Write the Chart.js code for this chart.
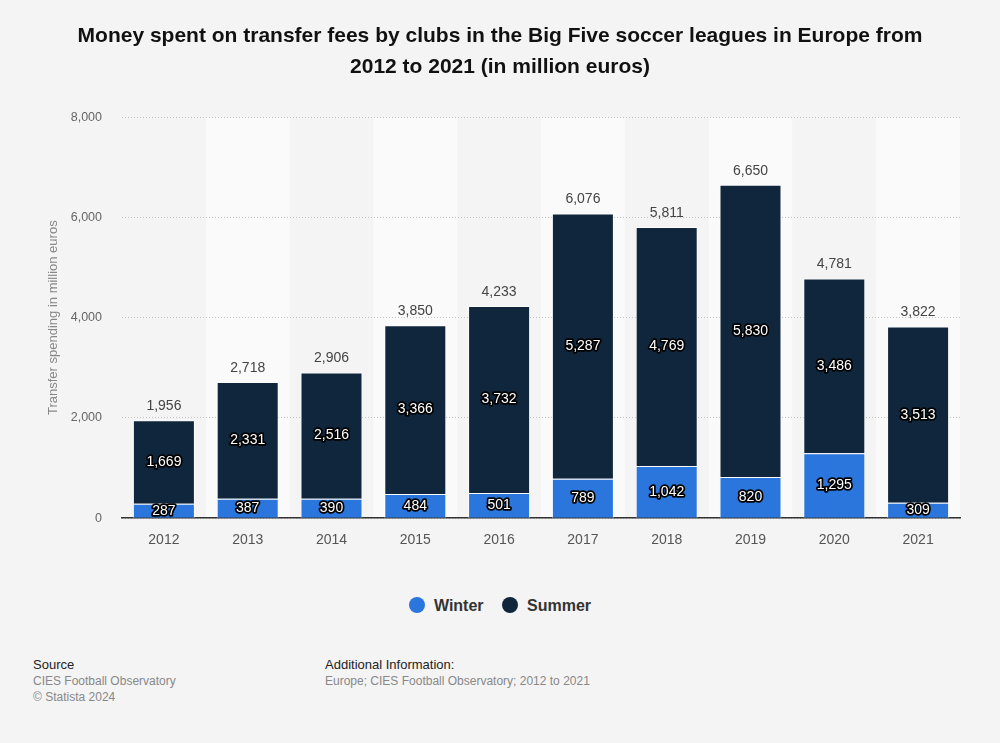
<!DOCTYPE html>
<html>
<head>
<meta charset="utf-8">
<script src="https://cdn.jsdelivr.net/npm/chart.js@4"></script>
<style>
  body { margin: 0; background: #f4f4f4; font-family: "Liberation Sans", Arial, sans-serif; }
  #wrap { position: relative; width: 1000px; height: 743px; }
  #chart { position: absolute; left: 0; top: 0; }
  .legend { position: absolute; top: 597px; left: 0; width: 1000px; text-align: center; font-size: 16px; font-weight: bold; color: #333; }
  .legend span { display: inline-block; margin: 0 7px; }
  .legend i { display: inline-block; width: 16px; height: 16px; border-radius: 50%; vertical-align: -2px; margin-right: 9px; }
  .foot { position: absolute; top: 657px; font-size: 12px; color: #888; line-height: 16px; }
  .foot b { font-weight: normal; color: #222; font-size: 13px; }
</style>
</head>
<body>
<div id="wrap">
  <canvas id="chart" width="1000" height="560"></canvas>
  <div class="legend">
    <span><i style="background:#2a76dc"></i>Winter</span>
    <span><i style="background:#10263d"></i>Summer</span>
  </div>
  <div class="foot" style="left:33px"><b>Source</b><br>CIES Football Observatory<br>© Statista 2024</div>
  <div class="foot" style="left:325px"><b>Additional Information:</b><br>Europe; CIES Football Observatory; 2012 to 2021</div>
</div>
<script>
const years = ['2012', '2013', '2014', '2015', '2016', '2017', '2018', '2019', '2020', '2021'];
const winter = [287, 387, 390, 484, 501, 789, 1042, 820, 1295, 309];
const summer = [1669, 2331, 2516, 3366, 3732, 5287, 4769, 5830, 3486, 3513];
const yTicks = [0, 2000, 4000, 6000, 8000];

const totals = years.map((y, i) => winter[i] + summer[i]);
const fmt = v => v.toLocaleString('en-US');
const FONT = '"Liberation Sans", Arial, sans-serif';

// lighter background columns behind every other year
const bands = {
    id: 'bands',
    beforeDraw(chart) {
        const { ctx, chartArea, scales } = chart;
        const w = (chartArea.right - chartArea.left) / years.length;
        ctx.save();
        ctx.fillStyle = '#fafafa';
        years.forEach((y, i) => {
            if (i % 2 === 1) {
                const x = scales.x.getPixelForValue(i);
                ctx.fillRect(x - w / 2, chartArea.top, w, chartArea.bottom - chartArea.top);
            }
        });
        ctx.restore();
    }
};

// values inside the bars and totals on top
const labels = {
    id: 'labels',
    afterDatasetsDraw(chart) {
        const { ctx } = chart;
        ctx.save();
        ctx.textAlign = 'center';
        ctx.textBaseline = 'middle';
        ctx.font = '14px ' + FONT;
        ctx.lineJoin = 'round';
        chart.data.datasets.forEach((ds, di) => {
            chart.getDatasetMeta(di).data.forEach((bar, i) => {
                const cy = (bar.y + bar.base) / 2;
                ctx.lineWidth = 3.5;
                ctx.strokeStyle = '#000';
                ctx.strokeText(fmt(ds.data[i]), bar.x, cy);
                ctx.fillStyle = '#fff';
                ctx.fillText(fmt(ds.data[i]), bar.x, cy);
            });
        });
        ctx.fillStyle = '#444';
        chart.getDatasetMeta(1).data.forEach((bar, i) => {
            ctx.fillText(fmt(totals[i]), bar.x, bar.y - 14);
        });
        ctx.restore();
    }
};

new Chart(document.getElementById('chart'), {
    type: 'bar',
    data: {
        labels: years,
        datasets: [
            { label: 'Winter', data: winter, backgroundColor: '#2a76dc', borderColor: 'rgba(255,255,255,0.7)', borderWidth: 1 },
            { label: 'Summer', data: summer, backgroundColor: '#10263d', borderColor: 'rgba(255,255,255,0.7)', borderWidth: 1 }
        ]
    },
    options: {
        responsive: false,
        animation: false,
        layout: { padding: { left: 40, right: 40, bottom: 5 } },
        datasets: { bar: { categoryPercentage: 0.74, barPercentage: 1 } },
        plugins: {
            legend: { display: false },
            tooltip: { enabled: false },
            title: {
                display: true,
                text: ['Money spent on transfer fees by clubs in the Big Five soccer leagues in Europe from', '2012 to 2021 (in million euros)'],
                color: '#111',
                font: { family: FONT, size: 21, weight: 'bold', lineHeight: 1.48 },
                padding: { top: 21, bottom: 34 }
            }
        },
        scales: {
            x: {
                stacked: true,
                grid: { display: false },
                border: { color: '#333', width: 1.5 },
                ticks: { color: '#555', padding: 6, font: { family: FONT, size: 14 } }
            },
            y: {
                stacked: true,
                min: 0,
                max: 8000,
                afterBuildTicks: s => { s.ticks = yTicks.map(v => ({ value: v })); },
                afterFit: s => { s.width = 82; },
                grid: { color: '#c4c4c4', drawTicks: false },
                border: { display: false, dash: [1, 2] },
                ticks: { color: '#666', padding: 20, font: { family: FONT, size: 12.5 }, callback: v => fmt(v) },
                title: { display: true, text: 'Transfer spending in million euros', color: '#888', font: { family: FONT, size: 13 }, padding: 6 }
            }
        }
    },
    plugins: [bands, labels]
});
</script>
</body>
</html>
